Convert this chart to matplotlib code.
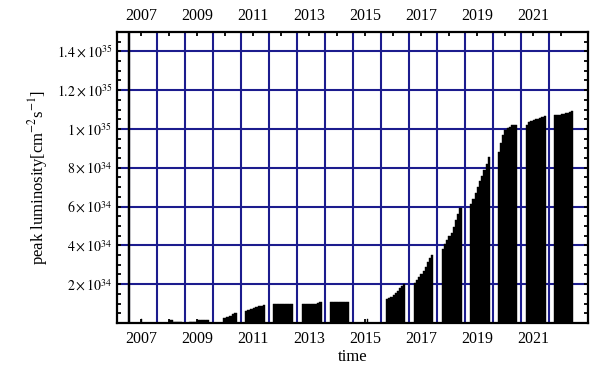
import numpy as np
import matplotlib.pyplot as plt
from matplotlib.ticker import FixedLocator, MultipleLocator

plt.rcParams['font.family'] = 'Liberation Serif'
plt.rcParams['mathtext.fontset'] = 'stix'

# run periods: start / end (in years) and peak luminosity steps (units of 1e34 cm^-2 s^-1)
run_start = [2006.52, 2007.00, 2008.00, 2008.71, 2009.93, 2010.71, 2011.71, 2012.73,
             2013.75, 2015.06, 2015.75, 2016.74, 2017.74, 2018.75, 2019.74, 2020.75,
             2021.75]
run_end = [2006.62, 2007.05, 2008.46, 2009.43, 2010.43, 2011.43, 2012.43, 2013.45,
           2014.43, 2015.10, 2016.44, 2017.44, 2018.45, 2019.46, 2020.44, 2021.45,
           2022.44]
run_lumi = [
    [20.0],
    [0.19],
    [0.16, 0.16, 0.06, 0.06, 0.06, 0.06],
    [0.03, 0.03, 0.06, 0.17, 0.17, 0.17, 0.17, 0.17],
    [0.27, 0.33, 0.38, 0.44, 0.50],
    [0.62, 0.66, 0.72, 0.76, 0.80, 0.85, 0.88, 0.91],
    [0.98, 1.00, 1.00, 1.00, 1.00, 1.00, 1.00, 1.00],
    [0.97, 0.97, 0.97, 0.97, 0.97, 0.97, 1.03, 1.10],
    [1.10, 1.10, 1.10, 1.10, 1.10, 1.10, 1.10, 1.10],
    [0.19],
    [1.22, 1.28, 1.35, 1.43, 1.55, 1.67, 1.80, 1.92, 2.00],
    [2.08, 2.20, 2.35, 2.50, 2.70, 2.90, 3.15, 3.35, 3.50],
    [3.80, 4.05, 4.30, 4.50, 4.65, 4.95, 5.30, 5.60, 5.93],
    [6.13, 6.40, 6.70, 7.00, 7.30, 7.60, 7.90, 8.20, 8.54],
    [8.80, 9.30, 9.70, 9.95, 10.05, 10.12, 10.18, 10.21, 10.23],
    [10.23, 10.35, 10.42, 10.47, 10.50, 10.53, 10.57, 10.61, 10.65],
    [10.70, 10.72, 10.74, 10.76, 10.78, 10.80, 10.84, 10.88, 10.92],
]

years = np.arange(2007, 2023)
label_years = np.arange(2007, 2022, 2)
ytick_vals = [2, 4, 6, 8, 10, 12, 14]
ytick_text = [r'$2\times10^{34}$', r'$4\times10^{34}$', r'$6\times10^{34}$',
              r'$8\times10^{34}$', r'$1\times10^{35}$', r'$1.2\times10^{35}$',
              r'$1.4\times10^{35}$']

fig = plt.figure(figsize=(5.9, 3.69), dpi=100)
ax = fig.add_axes([0.1983, 0.1247, 0.7983, 0.7886])

for s, e, vals in zip(run_start, run_end, run_lumi):
    n = len(vals)
    w = (e - s) / n
    xs = s + w * np.arange(n)
    ax.bar(xs, vals, width=w, align='edge', color='black', edgecolor='black',
           linewidth=0.3, zorder=3)

ax.set_xlim(2006.14, 2022.96)
ax.set_ylim(0, 15)

# year ticks, grid lines between running periods
ax.xaxis.set_minor_locator(FixedLocator(np.arange(2006, 2022) + 0.555))
ax.set_xticks(years)
ax.set_xticklabels([str(y) if y in label_years else '' for y in years])
ax.set_yticks(ytick_vals)
ax.set_yticklabels(ytick_text)
ax.yaxis.set_minor_locator(MultipleLocator(0.5))

ax.grid(True, which='minor', axis='x', color='#1c1c8e', linewidth=1.5, zorder=1)
ax.grid(True, which='major', axis='y', color='#1c1c8e', linewidth=1.5, zorder=1)
ax.set_axisbelow(True)

ax.tick_params(axis='x', which='major', direction='in', length=3, width=1.3,
               top=True, labeltop=True, labelsize=11.5, pad=6)
ax.tick_params(axis='x', which='minor', length=0, top=False, bottom=False)
ax.tick_params(axis='y', which='both', direction='in', length=3, width=1.3,
               right=True, labelsize=10)

for sp in ax.spines.values():
    sp.set_linewidth(1.6)

ax.set_xlabel('time', fontsize=12, labelpad=1)
ax.set_ylabel(r'peak luminosity[cm$^{-2}$s$^{-1}$]', fontsize=12, labelpad=5)

fig.savefig('out.png', dpi=100)
